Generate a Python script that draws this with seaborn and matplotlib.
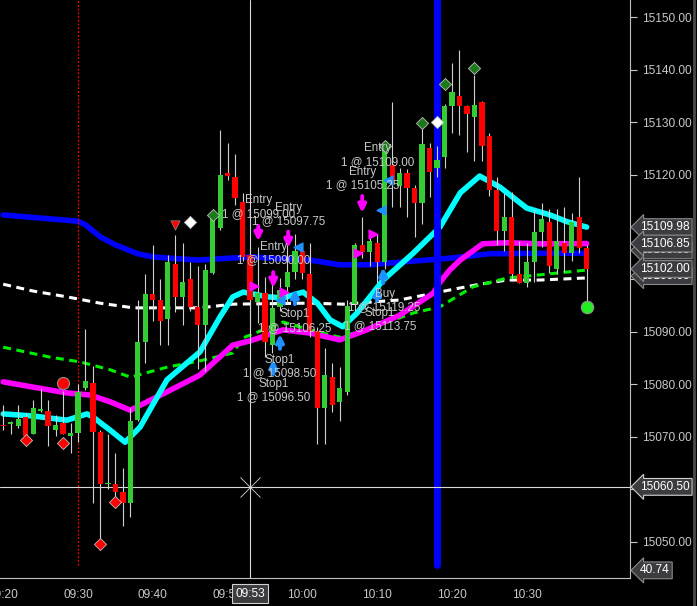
import numpy as np
import pandas as pd
import matplotlib
matplotlib.use("Agg")
import matplotlib.pyplot as plt
import seaborn as sns
from matplotlib.ticker import MultipleLocator, FuncFormatter

# one candle per minute, 09:20 .. 10:38 (minutes of the day)
times = np.arange(9 * 60 + 20, 10 * 60 + 39)
opens = [15072.25, 15072.5, 15072.0, 15073.75, 15070.5, 15075.0, 15075.0, 15071.25, 15072.75, 15070.25,
         15070.75, 15079.25, 15080.25, 15071.0, 15061.0, 15061.0, 15059.5, 15057.5, 15073.25, 15088.0,
         15097.25, 15096.0, 15092.5, 15103.0, 15096.75, 15100.0, 15094.75, 15091.25, 15101.25, 15109.75,
         15120.25, 15119.5, 15114.75, 15104.75, 15095.75, 15097.5, 15087.5, 15094.75, 15098.5, 15101.5,
         15105.5, 15101.0, 15090.25, 15075.5, 15081.5, 15076.75, 15078.5, 15095.25, 15106.5, 15105.25,
         15107.0, 15103.25, 15121.75, 15117.75, 15120.25, 15117.5, 15114.5, 15125.0, 15121.25, 15123.25,
         15133.0, 15135.0, 15133.0, 15131.0, 15133.75, 15127.25, 15117.0, 15109.25, 15112.0, 15101.0,
         15099.25, 15103.25, 15109.0, 15111.0, 15102.0, 15107.0, 15105.0, 15112.0, 15106.0]
highs = [15076.0, 15073.0, 15076.0, 15074.5, 15077.0, 15079.25, 15077.0, 15074.25, 15078.75, 15072.75,
         15080.0, 15090.5, 15083.5, 15071.25, 15070.5, 15067.0, 15064.0, 15075.5, 15096.0, 15101.0,
         15106.5, 15100.0, 15104.75, 15108.5, 15107.0, 15103.25, 15102.5, 15103.0, 15112.25, 15128.5,
         15126.0, 15124.0, 15116.5, 15106.25, 15106.25, 15100.5, 15099.5, 15100.25, 15108.75, 15108.75,
         15107.0, 15107.0, 15091.0, 15087.0, 15084.0, 15083.25, 15096.0, 15107.0, 15112.0, 15108.75,
         15108.75, 15126.0, 15133.75, 15121.25, 15121.0, 15118.0, 15129.0, 15126.0, 15125.5, 15133.5,
         15141.25, 15143.75, 15133.25, 15139.0, 15134.0, 15128.0, 15119.5, 15116.5, 15116.75, 15107.25,
         15107.0, 15113.5, 15114.5, 15113.5, 15113.5, 15113.75, 15112.75, 15119.5, 15106.5]
lows = [15071.25, 15070.5, 15071.75, 15070.0, 15070.5, 15074.75, 15068.25, 15070.25, 15070.5, 15067.0,
        15069.0, 15079.0, 15057.5, 15050.5, 15060.0, 15058.5, 15053.0, 15054.75, 15073.0, 15084.0,
        15092.0, 15087.5, 15087.5, 15093.75, 15091.25, 15094.0, 15083.0, 15082.5, 15101.0, 15109.5,
        15119.0, 15114.25, 15103.5, 15091.75, 15091.75, 15085.25, 15086.0, 15094.0, 15095.5, 15100.0,
        15100.0, 15089.0, 15068.75, 15068.75, 15074.75, 15073.0, 15078.0, 15094.0, 15104.0, 15102.5,
        15099.25, 15102.0, 15113.75, 15113.75, 15112.0, 15108.0, 15110.5, 15115.75, 15119.5, 15121.25,
        15128.0, 15127.5, 15124.25, 15122.5, 15122.5, 15116.0, 15106.5, 15105.5, 15100.0, 15099.25,
        15098.5, 15099.5, 15106.25, 15101.25, 15101.0, 15101.5, 15103.5, 15105.0, 15095.75]
closes = [15072.0, 15072.5, 15073.5, 15070.25, 15075.5, 15075.0, 15072.0, 15072.25, 15070.5, 15070.75,
          15078.5, 15080.75, 15071.0, 15061.0, 15061.25, 15059.5, 15057.5, 15073.0, 15088.0, 15097.25,
          15096.0, 15092.0, 15103.25, 15096.75, 15099.5, 15094.75, 15091.25, 15101.75, 15111.75, 15120.0,
          15119.75, 15115.5, 15104.25, 15096.0, 15097.5, 15088.0, 15094.5, 15098.0, 15101.5, 15105.5,
          15101.25, 15090.25, 15075.5, 15081.75, 15076.0, 15079.25, 15095.0, 15106.5, 15105.25, 15107.25,
          15103.25, 15124.75, 15118.75, 15120.25, 15117.5, 15114.5, 15125.75, 15120.5, 15122.75, 15133.0,
          15135.75, 15133.0, 15131.5, 15133.25, 15125.5, 15117.0, 15109.25, 15112.0, 15101.0, 15099.25,
          15103.25, 15109.0, 15111.5, 15102.5, 15107.25, 15105.0, 15111.0, 15106.0, 15102.0]

# indicator lines (minute of day, price)
blue_t = [560, 570, 571, 573, 575, 578, 580, 586, 593, 601, 605, 609, 613, 620, 625, 632, 638]
blue_v = [15112.3, 15111.1, 15110.4, 15108.1, 15106.6, 15104.9, 15104.3, 15103.7, 15104.3, 15103.7,
          15102.8, 15102.8, 15103.3, 15104.1, 15104.9, 15105.0, 15105.0]
cyan_t = [560, 564, 568.5, 571.2, 572, 574.3, 576.3, 578.3, 581.9, 586.3, 589, 590.7, 592.1, 595.3, 597.4,
          600.1, 602, 603.7, 605.4, 607.3, 610.8, 614.8, 618.4, 621.1, 623.7, 626.4, 630, 633.1, 635.4, 638]
cyan_v = [15074.4, 15074.0, 15073.2, 15074.4, 15073.8, 15071.3, 15069.0, 15071.9, 15080.9, 15086.2,
          15092.9, 15096.7, 15097.6, 15096.7, 15096.5, 15097.6, 15095.5, 15092.3, 15091.0, 15093.6,
          15099.9, 15105.0, 15110.0, 15116.5, 15119.7, 15117.6, 15113.6, 15112.3, 15111.0, 15109.98]
magenta_t = [560, 564, 568.5, 571.6, 574.3, 577, 581.9, 586.3, 590.7, 593, 597.4, 601, 605, 608.6, 613,
             617.5, 618.4, 619.7, 621.1, 624.1, 627.4, 631.8, 638]
magenta_v = [15080.5, 15079.5, 15078.4, 15078.0, 15076.7, 15075.1, 15078.6, 15081.8, 15087.5, 15088.3,
             15090.4, 15089.8, 15088.5, 15090.4, 15093.2, 15097.4, 15099.5, 15101.8, 15103.7, 15106.8,
             15107.0, 15106.8, 15106.85]
green_t = [560, 566.3, 570.3, 574.3, 577, 581.9, 586.3, 590.7, 592.1, 597.4, 601, 605, 609.4, 614.8, 618.4,
           622.8, 627.4, 631.8, 638]
green_v = [15087.1, 15085.2, 15084.3, 15082.8, 15081.4, 15083.3, 15084.5, 15086.0, 15088.9, 15091.9,
           15090.4, 15089.0, 15090.9, 15093.6, 15094.8, 15098.6, 15100.3, 15100.9, 15101.8]
white_t = [560, 564, 568.5, 572.9, 577.4, 586.3, 590.7, 601, 605.4, 613, 619.7, 623.7, 627.4, 631.8, 638]
white_v = [15099.1, 15097.8, 15096.7, 15095.5, 15094.6, 15094.6, 15095.3, 15095.5, 15095.3, 15096.1,
           15098.0, 15099.1, 15099.9, 15099.9, 15100.3]

# signal markers
red_diamond_t = [563, 568, 573, 575]
red_diamond_v = [15069.4, 15068.9, 15049.6, 15057.6]
green_diamond_t = [588, 611, 616, 619, 623]
green_diamond_v = [15112.3, 15125.5, 15129.8, 15137.2, 15140.3]
white_diamond_t = [585, 618]
white_diamond_v = [15111.0, 15130.0]

# order arrows (time, tail price, tip price)
sell_arrows = [(594.1, 15110.2, 15107.3), (598.1, 15109.1, 15106.0), (596.1, 15101.4, 15098.4),
               (608.0, 15115.9, 15112.7)]
buy_arrows = [(597.0, 15086.8, 15089.6), (599.0, 15095.3, 15098.2), (610.8, 15099.3, 15102.3),
              (610.0, 15095.9, 15098.6), (596.1, 15082.0, 15084.8)]
left_tri = [(599.4, 15106.2), (597.0, 15096.1), (610.5, 15113.2), (611.4, 15119.0)]
right_tri = [(593.5, 15098.8), (597.5, 15097.6), (609.4, 15108.7), (607.4, 15105.0)]

# order labels
order_text = ["Entry\n1 @ 15099.00", "Entry\n1 @ 15097.75", "Entry\n1 @ 15090.00",
              "Stop1\n1 @ 15106.25", "Stop1\n1 @ 15098.50", "Stop1\n1 @ 15096.50",
              "Entry\n1 @ 15109.00", "Entry\n1 @ 15105.25", "Buy\n1 @ 15119.25", "Stop1\n1 @ 15113.75"]
order_t = [594.1, 598.1, 596.2, 599.0, 597.0, 596.1, 610.0, 608.0, 611.0, 610.4]
order_v = [15113.8, 15112.4, 15105.0, 15092.1, 15083.4, 15078.8, 15123.7, 15119.2, 15096.0, 15092.4]

# right price tags (price, text)
tags = [(15105.55, "15105.55"), (15109.98, "15109.98"), (15106.85, "15106.85"),
        (15100.65, "15100.65"), (15102.00, "15102.00")]
cross_t = 593
cross_v = 15060.5
time_ticks = [560, 570, 580, 590, 600, 610, 620, 630]

sns.set_theme(style="dark", rc={"axes.facecolor": "black", "figure.facecolor": "black",
                                "axes.edgecolor": "#c0c0c0", "text.color": "#c8c8c8",
                                "xtick.color": "#c8c8c8", "ytick.color": "#c8c8c8"})
plt.rcParams["font.family"] = ["Liberation Sans", "DejaVu Sans"]

fig = plt.figure(figsize=(6.97, 6.06), dpi=100)
ax = fig.add_axes([0, 1 - 578 / 606, 630 / 697, 578 / 606])
ax.set_facecolor("black")

df = pd.DataFrame({"t": times, "open": opens, "high": highs, "low": lows, "close": closes})

# indicator lines
sns.lineplot(x=blue_t, y=blue_v, ax=ax, color="#0000ff", lw=4, zorder=2)
sns.lineplot(x=white_t, y=white_v, ax=ax, color="white", lw=2.2, linestyle=(0, (2.6, 1.8)), zorder=2)
sns.lineplot(x=green_t, y=green_v, ax=ax, color="#00ee00", lw=2.2, linestyle=(0, (2.6, 1.8)), zorder=2)
sns.lineplot(x=magenta_t, y=magenta_v, ax=ax, color="#ff00ff", lw=4, zorder=2)
sns.lineplot(x=cyan_t, y=cyan_v, ax=ax, color="#00ffff", lw=4, zorder=2)

# vertical / horizontal markers
ax.axvline(10 * 60 + 18, ymin=0.022, color="#0000ff", lw=5, zorder=2.5)
ax.axvline(9 * 60 + 30, ymin=0.022, color="red", lw=0.9, ls=(0, (1.5, 1.5)), zorder=2.5)
ax.axvline(cross_t, color="#d8d8d8", lw=0.8, zorder=2.6)
ax.axhline(cross_v, color="#d8d8d8", lw=0.8, zorder=2.6)
ax.plot(cross_t, cross_v, marker="x", ms=14, mew=0.6, color="#d8d8d8", zorder=2.6)

# candles
up = df["close"] >= df["open"]
body_lo = np.minimum(df["open"], df["close"])
body_h = np.maximum((df["close"] - df["open"]).abs(), 0.3)
ax.vlines(df["t"], df["low"], df["high"], color="#d0d0d0", lw=0.8, zorder=3)
ax.bar(df["t"], body_h, bottom=body_lo, width=0.7,
       color=np.where(up, "#33cc33", "#ff0000"), linewidth=0, zorder=4)

# signal markers
ax.scatter(red_diamond_t, red_diamond_v, marker="D", s=38, color="red", edgecolor="#c0c0c0", lw=0.6, zorder=5)
ax.scatter(green_diamond_t, green_diamond_v, marker="D", s=38, color="#1a7a1a", edgecolor="#c0c0c0", lw=0.6, zorder=5)
ax.scatter(white_diamond_t, white_diamond_v, marker="D", s=38, color="white", edgecolor="#c0c0c0", lw=0.6, zorder=5)
ax.scatter([568], [15080.3], marker="o", s=75, color="red", edgecolor="#909090", lw=0.8, zorder=5)
ax.scatter([583], [15110.4], marker="v", s=45, color="red", edgecolor="#909090", lw=0.5, zorder=5)
ax.scatter([638], [15094.8], marker="o", s=80, color="#22ee22", edgecolor="#909090", lw=0.8, zorder=5)

for t, a, b in sell_arrows:
    ax.annotate("", xy=(t, b), xytext=(t, a),
                arrowprops=dict(arrowstyle="-|>", color="#ff00ff", lw=2.8, mutation_scale=11,
                                shrinkA=0, shrinkB=0), zorder=5)
for t, a, b in buy_arrows:
    ax.annotate("", xy=(t, b), xytext=(t, a),
                arrowprops=dict(arrowstyle="-|>", color="#1e90ff", lw=2.8, mutation_scale=11,
                                shrinkA=0, shrinkB=0), zorder=5)
ax.scatter([p[0] for p in left_tri], [p[1] for p in left_tri], marker="<", s=40, color="#1e90ff", zorder=5)
ax.scatter([p[0] for p in right_tri], [p[1] for p in right_tri], marker=">", s=40, color="#ff00ff", zorder=5)

for txt, t, v in zip(order_text, order_t, order_v):
    ax.text(t, v, txt, ha="center", va="center", fontsize=8.4, color="#c8c8c8",
            linespacing=1.15, zorder=6)

# axes
ax.set_xlim(559.57, 643.8)
ax.set_ylim(15043.14, 15153.24)
ax.grid(False)
for s in ["top", "left"]:
    ax.spines[s].set_visible(False)
ax.spines["right"].set_color("#c0c0c0")
ax.spines["bottom"].set_color("#c0c0c0")
ax.spines["right"].set_linewidth(0.8)
ax.spines["bottom"].set_linewidth(0.8)
ax.yaxis.tick_right()
ax.yaxis.set_major_locator(MultipleLocator(10))
ax.yaxis.set_major_formatter(FuncFormatter(lambda v, p: f"{v:.2f}"))
ax.set_xticks(time_ticks)
ax.xaxis.set_major_formatter(FuncFormatter(lambda m, p: f"{int(m) // 60:02d}:{int(m) % 60:02d}"))
ax.tick_params(axis="y", direction="out", length=5, width=0.8, pad=4, labelsize=8.6, colors="#c8c8c8")
ax.tick_params(axis="x", direction="out", length=4, width=0.8, pad=4, labelsize=8.6, colors="#c8c8c8")
ax.set_xlabel("")
ax.set_ylabel("")

# price tags on the right
yt = ax.get_yaxis_transform()
for price, txt in tags:
    ax.text(1.016, price, txt, transform=yt, ha="left", va="center", fontsize=8.6, color="white",
            bbox=dict(boxstyle="larrow,pad=0.2", fc="#3c3c40", ec="#8a8a8a", lw=0.8), clip_on=False, zorder=10)
ax.text(1.016, cross_v, "15060.50", transform=yt, ha="left", va="center", fontsize=8.6, color="white",
        bbox=dict(boxstyle="larrow,pad=0.2", fc="#3c3c40", ec="#d0d0d0", lw=0.8), clip_on=False, zorder=10)
ax.text(1.016, 15044.6, "40.74", transform=yt, ha="left", va="center", fontsize=8.6, color="white",
        bbox=dict(boxstyle="larrow,pad=0.2", fc="#3c3c40", ec="#8a8a8a", lw=0.8), clip_on=False, zorder=10)

xt = ax.get_xaxis_transform()
ax.text(cross_t, -0.027, "09:53", transform=xt, ha="center", va="center", fontsize=8.6, color="white",
        bbox=dict(boxstyle="square,pad=0.3", fc="#3c3c40", ec="#d0d0d0", lw=0.8), clip_on=False, zorder=10)

# window border on the right
fig.add_artist(plt.Line2D([693.5 / 697, 693.5 / 697], [0, 1], transform=fig.transFigure,
                          color="#4a4a4a", lw=2))

plt.savefig("out.png", dpi=100, facecolor="black")
